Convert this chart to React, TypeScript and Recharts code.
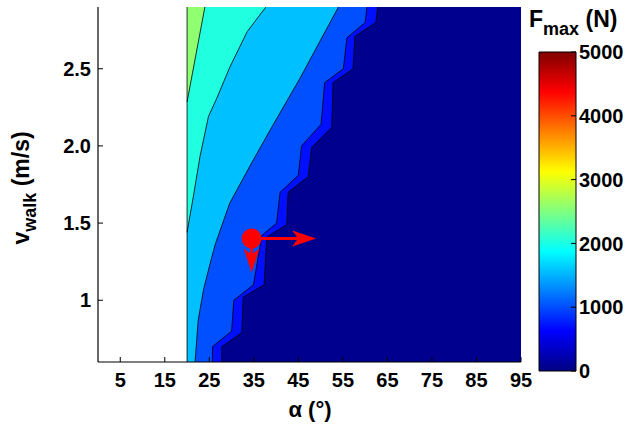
import {
  ComposedChart,
  Area,
  XAxis,
  YAxis,
  ReferenceLine,
  ReferenceDot,
  Label,
  BarChart,
  Bar,
} from "recharts";

const FONT = '"Liberation Sans", Arial, sans-serif';

// axis ticks
const alphaTicks = [5, 15, 25, 35, 45, 55, 65, 75, 85, 95];
const speedTicks = [1, 1.5, 2, 2.5];
const fmaxTicks = [0, 1000, 2000, 3000, 4000, 5000];

// contour boundaries: walking speed (m/s) -> alpha (deg)
const greenV = [2.285, 2.9];
const greenA = [20, 24.0];

const cyanV = [1.44, 1.67, 1.93, 2.19, 2.31, 2.51, 2.74, 2.9];
const cyanA = [20, 21.4, 22.9, 24.8, 26.7, 29.6, 33.5, 37.7];

const lightV = [0.6, 0.87, 1.07, 1.24, 1.36, 1.63, 1.89, 2.14, 2.44, 2.74, 2.9];
const lightA = [21.8, 22.5, 23.7, 25.2, 26.3, 29.6, 34.5, 39.4, 45.4, 51.0, 54.0];

const midV = [0.6, 0.7, 0.8, 1.0, 1.1, 1.42, 1.5, 1.7, 1.81, 2.0, 2.14, 2.41, 2.5, 2.7, 2.8, 2.9];
const midA = [25.7, 25.7, 30.0, 30.5, 34.9, 36.8, 40.1, 40.9, 45.0, 45.7, 50.1, 50.9, 55.1, 55.9, 60.0, 60.4];

const blueV = [0.6, 0.7, 0.79, 1.02, 1.1, 1.41, 1.49, 1.7, 1.8, 1.99, 2.12, 2.41, 2.5, 2.71, 2.8, 2.9];
const blueA = [27.8, 27.8, 32.3, 32.6, 37.3, 37.9, 42.4, 42.7, 47.2, 48.0, 52.5, 52.8, 57.3, 57.7, 62.4, 62.8];

const navyV = [0.6, 2.9];
const navyA = [95, 95];

// alpha where the feasible region starts
const alphaMin = 20;

// operating point and its gradient arrows
const pointAlpha = 34.5;
const pointSpeed = 1.4;
const arrowAlphaEnd = 49;
const arrowSpeedEnd = 1.18;

const toPoints = (vs: number[], as: number[]) => vs.map((v, i) => ({ v, a: as[i] }));

const layers = [
  { name: "navy", data: toPoints(navyV, navyA), fill: "#00008F", stroke: "none" },
  { name: "blue", data: toPoints(blueV, blueA), fill: "#0010FF", stroke: "#000" },
  { name: "mid", data: toPoints(midV, midA), fill: "#0050FF", stroke: "#000" },
  { name: "light", data: toPoints(lightV, lightA), fill: "#00C0FF", stroke: "#000" },
  { name: "cyan", data: toPoints(cyanV, cyanA), fill: "#20FFE0", stroke: "#000" },
  { name: "green", data: toPoints(greenV, greenA), fill: "#90FF70", stroke: "#000" },
];

const cbData = [{ name: "F", fmax: 5000 }];

const jetStops = [
  { o: 0, c: "#000080" },
  { o: 0.125, c: "#0000FF" },
  { o: 0.375, c: "#00FFFF" },
  { o: 0.625, c: "#FFFF00" },
  { o: 0.875, c: "#FF0000" },
  { o: 1, c: "#800000" },
];

const tickStyle = { fill: "#000", fontSize: 20, fontWeight: "bold", fontFamily: FONT };

function Arrow(props: any) {
  const { x1, y1, x2, y2 } = props;
  const dx = x2 - x1;
  const dy = y2 - y1;
  const len = Math.hypot(dx, dy) || 1;
  const ux = dx / len;
  const uy = dy / len;
  const head = 24;
  const half = 8;
  const notch = 6;
  const bx = x2 - ux * head;
  const by = y2 - uy * head;
  const nx = -uy;
  const ny = ux;
  const pts = [
    [x2, y2],
    [bx + nx * half, by + ny * half],
    [bx + ux * notch, by + uy * notch],
    [bx - nx * half, by - ny * half],
  ]
    .map((p) => p.join(","))
    .join(" ");
  return (
    <g>
      <line x1={x1} y1={y1} x2={bx + ux * notch} y2={by + uy * notch} stroke="#FF0000" strokeWidth={3} />
      <polygon points={pts} fill="#FF0000" />
    </g>
  );
}

const yTitle = () => (
  <text
    transform="translate(29,188) rotate(-90)"
    textAnchor="middle"
    fontFamily={FONT}
    fontWeight="bold"
    fontSize={23}
    fill="#000"
  >
    <tspan>v</tspan>
    <tspan fontSize={18} dy={7}>walk</tspan>
    <tspan dy={-7}> (m/s)</tspan>
  </text>
);

const xTitle = () => (
  <text x={310} y={417} textAnchor="middle" fontFamily={FONT} fontWeight="bold" fontSize={22} fill="#000">
    α (°)
  </text>
);

const cbTitle = () => (
  <text x={9} y={27} fontFamily={FONT} fontWeight="bold" fontSize={23} fill="#000">
    <tspan>F</tspan>
    <tspan fontSize={18} dy={8}>max</tspan>
    <tspan dy={-8}> (N)</tspan>
  </text>
);

export default function App() {
  return (
    <div style={{ position: "absolute", left: 0, top: 0, width: 636, height: 427, background: "#fff" }}>
      <div style={{ position: "absolute", left: 0, top: 0 }}>
        <ComposedChart
          width={636}
          height={427}
          layout="vertical"
          margin={{ top: 7, right: 115, bottom: 35, left: 0 }}
        >
          <XAxis
            type="number"
            domain={[0, 95]}
            allowDataOverflow
            ticks={alphaTicks}
            interval={0}
            height={30}
            tickSize={-5}
            tickMargin={16}
            tick={tickStyle}
            axisLine={{ stroke: "#000", strokeWidth: 1.2 }}
            tickLine={{ stroke: "#000" }}
          >
            <Label content={xTitle} />
          </XAxis>
          <XAxis
            xAxisId="top"
            orientation="top"
            type="number"
            domain={[0, 95]}
            allowDataOverflow
            ticks={alphaTicks}
            interval={0}
            height={0}
            tickSize={-5}
            tick={false}
            axisLine={{ stroke: "#000", strokeWidth: 1.2 }}
            tickLine={{ stroke: "#000" }}
          />
          <YAxis
            type="number"
            dataKey="v"
            reversed
            domain={[0.6, 2.9]}
            allowDataOverflow
            ticks={speedTicks}
            interval={0}
            width={98}
            tickSize={-5}
            tickMargin={12}
            tick={tickStyle}
            tickFormatter={(v: number) => (v === 1 ? "1" : v.toFixed(1))}
            axisLine={{ stroke: "#000", strokeWidth: 1.2 }}
            tickLine={{ stroke: "#000" }}
          >
            <Label content={yTitle} />
          </YAxis>
          <YAxis
            yAxisId="right"
            orientation="right"
            type="number"
            reversed
            domain={[0.6, 2.9]}
            allowDataOverflow
            ticks={speedTicks}
            interval={0}
            width={0}
            tickSize={-5}
            tick={false}
            axisLine={{ stroke: "#000", strokeWidth: 1.2 }}
            tickLine={{ stroke: "#000" }}
          />
          {layers.map((l) => (
            <Area
              key={l.name}
              data={l.data}
              dataKey="a"
              type="linear"
              baseValue={alphaMin}
              fill={l.fill}
              fillOpacity={1}
              stroke={l.stroke}
              strokeWidth={0.8}
              dot={false}
              activeDot={false}
              isAnimationActive={false}
            />
          ))}
          <ReferenceLine x={alphaMin} stroke="#000" strokeWidth={0.8} />
          <ReferenceLine
            segment={[
              { x: pointAlpha, y: pointSpeed },
              { x: arrowAlphaEnd, y: pointSpeed },
            ]}
            shape={Arrow}
          />
          <ReferenceLine
            segment={[
              { x: pointAlpha, y: pointSpeed },
              { x: pointAlpha, y: arrowSpeedEnd },
            ]}
            shape={Arrow}
          />
          <ReferenceDot x={pointAlpha} y={pointSpeed} r={10} fill="#FF0000" stroke="none" />
        </ComposedChart>
      </div>
      <div style={{ position: "absolute", left: 520, top: 0 }}>
        <BarChart
          width={116}
          height={427}
          data={cbData}
          margin={{ top: 52, right: 0, bottom: 56, left: 19 }}
          barCategoryGap={0}
        >
          <defs>
            <linearGradient id="jet" x1="0" y1="1" x2="0" y2="0">
              {jetStops.map((s) => (
                <stop key={s.o} offset={s.o} stopColor={s.c} />
              ))}
            </linearGradient>
          </defs>
          <XAxis dataKey="name" hide />
          <YAxis
            yAxisId="left"
            orientation="left"
            domain={[0, 5000]}
            ticks={fmaxTicks}
            width={0}
            tickSize={-5}
            tick={false}
            axisLine={false}
            tickLine={{ stroke: "#000" }}
          />
          <YAxis
            orientation="right"
            domain={[0, 5000]}
            ticks={fmaxTicks}
            interval={0}
            width={60}
            tickSize={-5}
            tickMargin={8}
            tick={{ ...tickStyle, textAnchor: "start" }}
            axisLine={false}
            tickLine={{ stroke: "#000" }}
          >
            <Label content={cbTitle} />
          </YAxis>
          <Bar dataKey="fmax" fill="url(#jet)" stroke="#000" strokeWidth={1} isAnimationActive={false} />
        </BarChart>
      </div>
    </div>
  );
}
